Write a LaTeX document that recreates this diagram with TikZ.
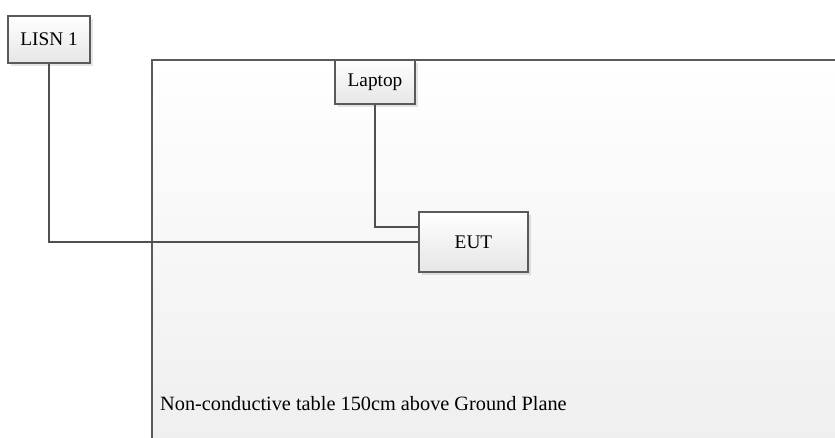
\documentclass[tikz,border=0pt]{standalone}
\usepackage{fontspec}
\setmainfont{Liberation Serif}
\usetikzlibrary{shadows}
\definecolor{edgegray}{HTML}{5A5A5A}
\definecolor{wiregray}{HTML}{505050}
\definecolor{boxbottom}{HTML}{E6E6E6}
\definecolor{tablebottom}{HTML}{EFEFEF}
\begin{document}
\begin{tikzpicture}[x=1pt,y=-1pt,
  devbox/.style={draw=edgegray, line width=1.3pt, top color=white, bottom color=boxbottom,
    font=\fontsize{19.3}{22}\selectfont, inner sep=0pt,
    drop shadow={shadow xshift=3pt, shadow yshift=-3pt, fill=black, opacity=0.10}},
  wire/.style={draw=wiregray, line width=1.2pt},
  tableedge/.style={draw=edgegray, line width=1.3pt}]
\useasboundingbox (0,0) rectangle (835,438);
% table
\shade[top color=white, bottom color=tablebottom] (152,60) rectangle (840,442);
\draw[tableedge] (152,442) -- (152,60) -- (840,60);
\node[anchor=base west, font=\fontsize{20.3}{23}\selectfont, inner sep=0pt] (tablelabel) at (160,410) {Non-conductive table 150cm above Ground Plane};
% devices
\node[devbox, minimum width=82pt, minimum height=47pt] (lisn) at (49,39.5) {LISN 1};
\node[devbox, minimum width=80pt, minimum height=44pt] (laptop) at (375,82) {Laptop};
\node[devbox, minimum width=109pt, minimum height=60pt] (eut) at (473.5,242) {EUT};
\coordinate (eutupper) at ([yshift=15pt]eut.west);
% wires
\draw[wire] (lisn.south) |- (eut.west);
\draw[wire] (laptop.south) |- (eutupper);
\end{tikzpicture}
\end{document}
